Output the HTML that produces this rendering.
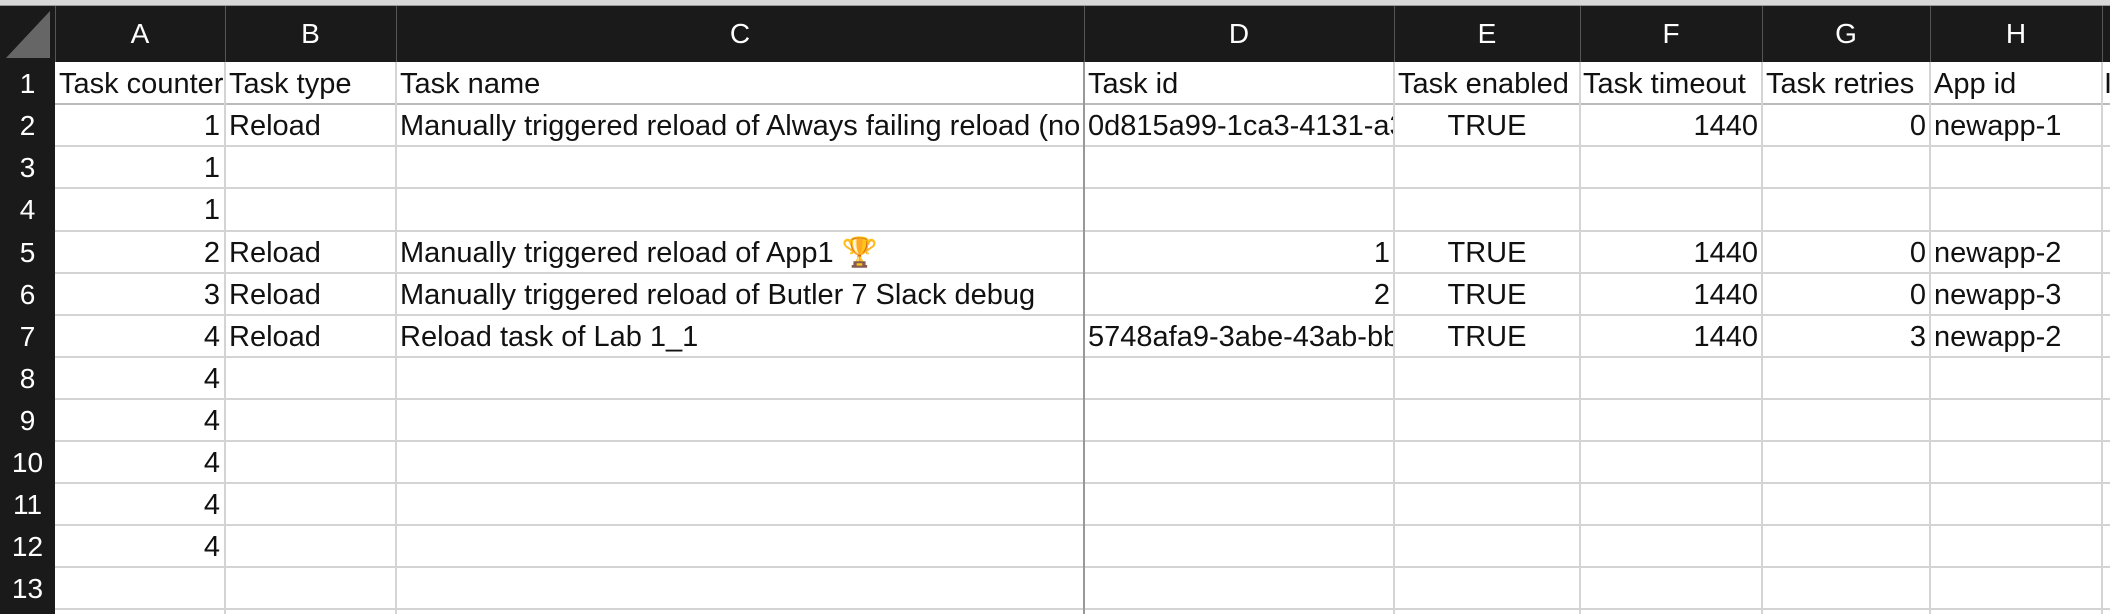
<!DOCTYPE html>
<html><head><meta charset="utf-8"><style>
body{margin:0;width:2110px;height:614px;overflow:hidden;background:#fff;position:relative;font-family:"Liberation Sans",sans-serif;}
.c{position:absolute;height:42px;line-height:44px;font-size:29px;color:#111;white-space:nowrap;overflow:hidden;}
.c span{display:inline-block;transform:scaleX(1.0);}
.l span{transform-origin:left center;}
.r{text-align:right;}
.r span{transform-origin:right center;}
.m{text-align:center;}
.h{position:absolute;background:#d4d4d4;height:2px;left:55px;width:2055px;}
.v{position:absolute;background:#d4d4d4;width:2px;top:62px;height:552px;}
.hd{position:absolute;color:#fff;font-size:28px;text-align:center;}
.sep{position:absolute;top:6px;height:56px;width:1px;background:#555}
</style></head><body>
<div style="position:absolute;left:0;top:0;width:2110px;height:6px;background:#d8d8d8;border-bottom:1px solid #999;box-sizing:border-box"></div>
<div style="position:absolute;left:0;top:6px;width:2110px;height:56px;background:#1a1a1a"></div>
<div style="position:absolute;left:0;top:62px;width:55px;height:552px;background:#1a1a1a"></div>
<svg style="position:absolute;left:0;top:6px" width="55" height="56"><polygon points="50,5 50,52 6,52" fill="#666"/></svg>
<div class="sep" style="left:55px"></div>
<div class="sep" style="left:225px"></div>
<div class="sep" style="left:396px"></div>
<div class="sep" style="left:1084px"></div>
<div class="sep" style="left:1394px"></div>
<div class="sep" style="left:1580px"></div>
<div class="sep" style="left:1762px"></div>
<div class="sep" style="left:1930px"></div>
<div class="sep" style="left:2102px"></div>
<div class="hd" style="left:55px;width:170px;top:6px;line-height:56px">A</div>
<div class="hd" style="left:225px;width:171px;top:6px;line-height:56px">B</div>
<div class="hd" style="left:396px;width:688px;top:6px;line-height:56px">C</div>
<div class="hd" style="left:1084px;width:310px;top:6px;line-height:56px">D</div>
<div class="hd" style="left:1394px;width:186px;top:6px;line-height:56px">E</div>
<div class="hd" style="left:1580px;width:182px;top:6px;line-height:56px">F</div>
<div class="hd" style="left:1762px;width:168px;top:6px;line-height:56px">G</div>
<div class="hd" style="left:1930px;width:172px;top:6px;line-height:56px">H</div>
<div class="hd" style="left:0;width:55px;top:62px;line-height:44px">1</div>
<div class="hd" style="left:0;width:55px;top:104px;line-height:44px">2</div>
<div class="hd" style="left:0;width:55px;top:146px;line-height:44px">3</div>
<div class="hd" style="left:0;width:55px;top:188px;line-height:44px">4</div>
<div class="hd" style="left:0;width:55px;top:231px;line-height:44px">5</div>
<div class="hd" style="left:0;width:55px;top:273px;line-height:44px">6</div>
<div class="hd" style="left:0;width:55px;top:315px;line-height:44px">7</div>
<div class="hd" style="left:0;width:55px;top:357px;line-height:44px">8</div>
<div class="hd" style="left:0;width:55px;top:399px;line-height:44px">9</div>
<div class="hd" style="left:0;width:55px;top:441px;line-height:44px">10</div>
<div class="hd" style="left:0;width:55px;top:483px;line-height:44px">11</div>
<div class="hd" style="left:0;width:55px;top:525px;line-height:44px">12</div>
<div class="hd" style="left:0;width:55px;top:567px;line-height:44px">13</div>
<div class="h" style="top:103px;background:#bbb"></div>
<div class="h" style="top:145px"></div><div class="h" style="top:187px"></div><div class="h" style="top:230px"></div>
<div class="h" style="top:272px"></div><div class="h" style="top:314px"></div><div class="h" style="top:356px"></div>
<div class="h" style="top:398px"></div><div class="h" style="top:440px"></div><div class="h" style="top:482px"></div>
<div class="h" style="top:524px"></div><div class="h" style="top:566px"></div><div class="h" style="top:608px"></div>
<div class="v" style="left:224px"></div><div class="v" style="left:395px"></div>
<div class="v" style="left:1083px;background:#999"></div>
<div class="v" style="left:1393px"></div><div class="v" style="left:1579px"></div>
<div class="v" style="left:1761px"></div><div class="v" style="left:1929px"></div><div class="v" style="left:2101px"></div>
<!-- row 1 -->
<div class="c l" style="left:59px;top:62px;width:165px"><span>Task counter</span></div>
<div class="c l" style="left:229px;top:62px;width:166px"><span>Task type</span></div>
<div class="c l" style="left:400px;top:62px;width:683px"><span>Task name</span></div>
<div class="c l" style="left:1088px;top:62px;width:300px"><span>Task id</span></div>
<div class="c l" style="left:1398px;top:62px;width:181px"><span>Task enabled</span></div>
<div class="c l" style="left:1583px;top:62px;width:178px"><span>Task timeout</span></div>
<div class="c l" style="left:1766px;top:62px;width:163px"><span>Task retries</span></div>
<div class="c l" style="left:1934px;top:62px;width:166px"><span>App id</span></div>
<div class="c l" style="left:2104px;top:62px;width:6px"><span>I</span></div>
<!-- row 2 -->
<div class="c r" style="left:59px;top:104px;width:161px"><span>1</span></div>
<div class="c l" style="left:229px;top:104px;width:166px"><span>Reload</span></div>
<div class="c l" style="left:400px;top:104px;width:683px"><span>Manually triggered reload of Always failing reload (no delay)</span></div>
<div class="c l" style="left:1088px;top:104px;width:305px"><span>0d815a99-1ca3-4131-a398</span></div>
<div class="c m" style="left:1394px;top:104px;width:186px"><span>TRUE</span></div>
<div class="c r" style="left:1580px;top:104px;width:178px"><span>1440</span></div>
<div class="c r" style="left:1762px;top:104px;width:164px"><span>0</span></div>
<div class="c l" style="left:1934px;top:104px;width:166px"><span>newapp-1</span></div>
<div class="c r" style="left:59px;top:146px;width:161px"><span>1</span></div>
<div class="c r" style="left:59px;top:188px;width:161px"><span>1</span></div>
<!-- row 5 -->
<div class="c r" style="left:59px;top:231px;width:161px"><span>2</span></div>
<div class="c l" style="left:229px;top:231px;width:166px"><span>Reload</span></div>
<div class="c l" style="left:400px;top:231px;width:683px"><span>Manually triggered reload of App1 🏆</span></div>
<div class="c r" style="left:1088px;top:231px;width:302px"><span>1</span></div>
<div class="c m" style="left:1394px;top:231px;width:186px"><span>TRUE</span></div>
<div class="c r" style="left:1580px;top:231px;width:178px"><span>1440</span></div>
<div class="c r" style="left:1762px;top:231px;width:164px"><span>0</span></div>
<div class="c l" style="left:1934px;top:231px;width:166px"><span>newapp-2</span></div>
<!-- row 6 -->
<div class="c r" style="left:59px;top:273px;width:161px"><span>3</span></div>
<div class="c l" style="left:229px;top:273px;width:166px"><span>Reload</span></div>
<div class="c l" style="left:400px;top:273px;width:683px"><span>Manually triggered reload of Butler 7 Slack debug</span></div>
<div class="c r" style="left:1088px;top:273px;width:302px"><span>2</span></div>
<div class="c m" style="left:1394px;top:273px;width:186px"><span>TRUE</span></div>
<div class="c r" style="left:1580px;top:273px;width:178px"><span>1440</span></div>
<div class="c r" style="left:1762px;top:273px;width:164px"><span>0</span></div>
<div class="c l" style="left:1934px;top:273px;width:166px"><span>newapp-3</span></div>
<!-- row 7 -->
<div class="c r" style="left:59px;top:315px;width:161px"><span>4</span></div>
<div class="c l" style="left:229px;top:315px;width:166px"><span>Reload</span></div>
<div class="c l" style="left:400px;top:315px;width:683px"><span>Reload task of Lab 1_1</span></div>
<div class="c l" style="left:1088px;top:315px;width:305px"><span>5748afa9-3abe-43ab-bbc1</span></div>
<div class="c m" style="left:1394px;top:315px;width:186px"><span>TRUE</span></div>
<div class="c r" style="left:1580px;top:315px;width:178px"><span>1440</span></div>
<div class="c r" style="left:1762px;top:315px;width:164px"><span>3</span></div>
<div class="c l" style="left:1934px;top:315px;width:166px"><span>newapp-2</span></div>
<div class="c r" style="left:59px;top:357px;width:161px"><span>4</span></div>
<div class="c r" style="left:59px;top:399px;width:161px"><span>4</span></div>
<div class="c r" style="left:59px;top:441px;width:161px"><span>4</span></div>
<div class="c r" style="left:59px;top:483px;width:161px"><span>4</span></div>
<div class="c r" style="left:59px;top:525px;width:161px"><span>4</span></div>
</body></html>
